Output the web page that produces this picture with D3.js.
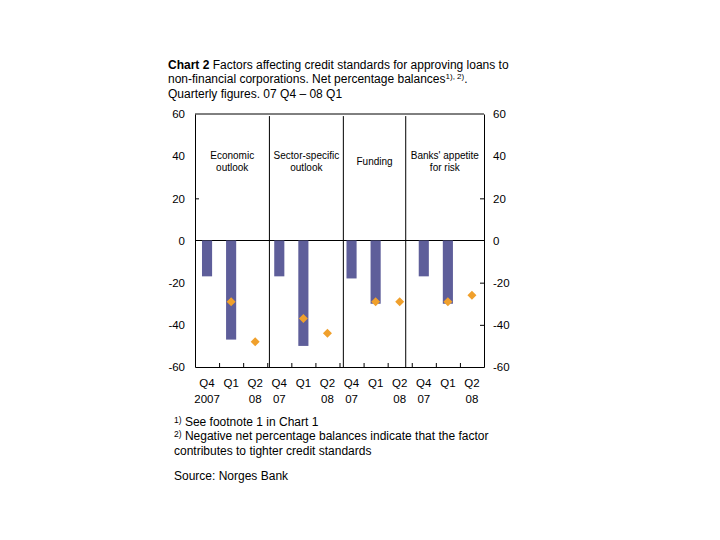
<!DOCTYPE html>
<html>
<head>
<meta charset="utf-8">
<title>Chart 2</title>
<style>
  body { margin: 0; background: #fff; }
  text { font-family: "Liberation Sans", Arial, sans-serif; fill: #000; }
  .tick text { font-size: 11.5px; }
  .cat { font-size: 11.5px; text-anchor: middle; }
  .panel { font-size: 10px; text-anchor: middle; }
  .title { font-size: 12px; }
  .note { font-size: 12px; }
</style>
<script src="https://d3js.org/d3.v7.min.js"></script>
</head>
<body>
<script>
// categories (quarters) across the four panels
var quarters = ["Q4", "Q1", "Q2", "Q4", "Q1", "Q2", "Q4", "Q1", "Q2", "Q4", "Q1", "Q2"];
var years    = ["2007", "", "08", "07", "", "08", "07", "", "08", "07", "", "08"];
// actual (bars) and expected (diamonds), null = no value
var actual   = [-17, -47, null, -17, -50, null, -18, -30, null, -17, -30, null];
var expected = [null, -29, -48, null, -37, -44, null, -29, -29, null, -29, -26];
var panels   = [["Economic", "outlook"], ["Sector-specific", "outlook"], ["Funding"], ["Banks' appetite", "for risk"]];
var separators = [3.09, 6.16, 8.75];
var yTicks = [60, 40, 20, 0, -20, -40, -60];
// tick marks that show up in the picture
var leftMarks = [20];
var rightMarks = [20, -20, -40];

var W = 720, H = 540;
var svg = d3.select("body").append("svg").attr("width", W).attr("height", H);

var x = d3.scaleLinear().domain([0, quarters.length]).range([195, 484]);
var y = d3.scaleLinear().domain([-60, 60]).range([367, 114]);
var fmt = function(d) { return String(d); };

// title
var t = svg.append("text").attr("class", "title").attr("x", 168).attr("y", 69);
t.append("tspan").attr("font-weight", "bold").text("Chart 2");
t.append("tspan").text(" Factors affecting credit standards for approving loans to");
var t2 = svg.append("text").attr("class", "title").attr("x", 168).attr("y", 83);
t2.append("tspan").text("non-financial corporations. Net percentage balances");
t2.append("tspan").attr("font-size", "8px").attr("dy", -4).text("1), 2)");
t2.append("tspan").attr("dy", 4).text(".");
svg.append("text").attr("class", "title").attr("x", 168).attr("y", 98)
   .text("Quarterly figures. 07 Q4 \u2013 08 Q1");

// axes
var gl = svg.append("g").attr("transform", "translate(" + x(0) + ",0)")
   .call(d3.axisLeft(y).tickValues(yTicks).tickFormat(fmt).tickSizeInner(-4).tickSizeOuter(0).tickPadding(10));
gl.selectAll(".tick line").filter(function(d) { return leftMarks.indexOf(d) < 0; }).remove();
var gr = svg.append("g").attr("transform", "translate(" + x(quarters.length) + ",0)")
   .call(d3.axisRight(y).tickValues(yTicks).tickFormat(fmt).tickSizeInner(-4).tickSizeOuter(0).tickPadding(9));
gr.selectAll(".tick line").filter(function(d) { return rightMarks.indexOf(d) < 0; }).remove();
svg.append("g").attr("transform", "translate(0," + y(-60) + ")")
   .call(d3.axisBottom(x).tickValues(d3.range(0, quarters.length + 1)).tickFormat("")
         .tickSizeInner(-4).tickSizeOuter(0));
svg.selectAll(".domain, .tick line").attr("stroke", "#000").attr("stroke-width", 1);

// top border and zero line
svg.append("line").attr("x1", x(0)).attr("x2", x(quarters.length))
   .attr("y1", y(60)).attr("y2", y(60)).attr("stroke", "#000");
svg.append("line").attr("x1", x(0)).attr("x2", x(quarters.length))
   .attr("y1", y(0)).attr("y2", y(0)).attr("stroke", "#000");

// panel separators
svg.selectAll(".sep").data(separators).enter().append("line")
   .attr("x1", function(d) { return x(d); }).attr("x2", function(d) { return x(d); })
   .attr("y1", y(59)).attr("y2", y(-60)).attr("stroke", "#000");

// panel labels
var bounds = [0].concat(separators).concat([quarters.length]);
panels.forEach(function(p, i) {
  var cx = x((bounds[i] + bounds[i + 1]) / 2);
  var y0 = p.length === 1 ? 164.5 : 158.5;
  p.forEach(function(line, j) {
    svg.append("text").attr("class", "panel").attr("x", cx).attr("y", y0 + j * 12).text(line);
  });
});

// bars
var bw = 0.42;
svg.selectAll(".bar").data(actual.map(function(v, i) { return {v: v, i: i}; })
     .filter(function(d) { return d.v !== null; }))
   .enter().append("rect")
   .attr("x", function(d) { return x(d.i + 0.5 - bw / 2); })
   .attr("width", function(d) { return x(bw) - x(0); })
   .attr("y", y(0))
   .attr("height", function(d) { return y(d.v) - y(0); })
   .attr("fill", "#5e5e9a");

// diamonds
svg.selectAll(".dia").data(expected.map(function(v, i) { return {v: v, i: i}; })
     .filter(function(d) { return d.v !== null; }))
   .enter().append("path")
   .attr("transform", function(d) { return "translate(" + x(d.i + 0.5) + "," + y(d.v) + ")"; })
   .attr("d", "M0,-4.5L4.5,0L0,4.5L-4.5,0Z")
   .attr("fill", "#f0a02c");

// category labels
svg.selectAll(".q").data(quarters).enter().append("text").attr("class", "cat")
   .attr("x", function(d, i) { return x(i + 0.5); }).attr("y", 387).text(function(d) { return d; });
svg.selectAll(".yr").data(years).enter().append("text").attr("class", "cat")
   .attr("x", function(d, i) { return x(i + 0.5); }).attr("y", 403).text(function(d) { return d; });

// footnotes
function note(sup, txt, yy) {
  var n = svg.append("text").attr("class", "note").attr("x", 174).attr("y", yy);
  if (sup) {
    n.append("tspan").attr("font-size", "8.5px").attr("dy", -3).text(sup);
    n.append("tspan").attr("dy", 3).text(" " + txt);
  } else {
    n.text(txt);
  }
}
note("1)", "See footnote 1 in Chart 1", 426);
note("2)", "Negative net percentage balances indicate that the factor", 440);
note(null, "contributes to tighter credit standards", 455);
note(null, "Source: Norges Bank", 480);
</script>
</body>
</html>
